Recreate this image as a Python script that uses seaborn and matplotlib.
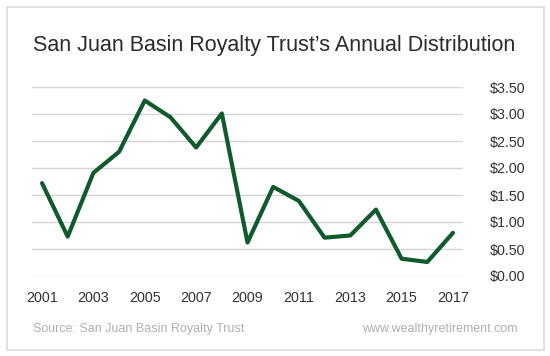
import pandas as pd
import numpy as np
from matplotlib import pyplot as plt
from matplotlib.patches import Rectangle
import seaborn as sns

# Data
years = list(range(2001, 2018))
distribution = [1.72, 0.73, 1.91, 2.30, 3.25, 2.94, 2.38, 3.01, 0.62,
                1.65, 1.39, 0.71, 0.75, 1.23, 0.32, 0.26, 0.80]
x_ticks = [2001, 2003, 2005, 2007, 2009, 2011, 2013, 2015, 2017]
y_ticks = [0, 0.5, 1.0, 1.5, 2.0, 2.5, 3.0, 3.5]

df = pd.DataFrame({"year": years, "value": distribution})

# Styles
sns.set_style("white")
plt.rcParams['font.family'] = ['Liberation Sans', 'DejaVu Sans']

fig = plt.figure(figsize=(5.5, 3.56), dpi=100)
ax = fig.add_axes([32 / 550, 80 / 356, 431 / 550, 189 / 356])

sns.lineplot(data=df, x='year', y='value', ax=ax, color='#115a2b',
             linewidth=3.0, clip_on=False)

ax.set_xlim(2000.61, 2017.39)
ax.set_ylim(0, 3.5)
ax.set_xticks(x_ticks)
ax.set_xticklabels([str(t) for t in x_ticks])
ax.set_yticks(y_ticks)
ax.set_yticklabels(['${:.2f}'.format(v) for v in y_ticks])
ax.yaxis.tick_right()
ax.tick_params(axis='y', length=0, pad=19, labelsize=10.3, labelcolor='#333333')
ax.tick_params(axis='x', length=0, pad=11, labelsize=10.3, labelcolor='#333333')
ax.set_xlabel('')
ax.set_ylabel('')
ax.grid(axis='y', color='#d4d4d4', linewidth=1)
ax.grid(axis='x', visible=False)
ax.set_axisbelow(True)
sns.despine(ax=ax, left=True, bottom=True, right=True, top=True)

# frame round the chart
fig.patches.append(Rectangle((7 / 550, 6 / 356), 537 / 550, 343 / 356,
                             transform=fig.transFigure, fill=False,
                             edgecolor='#dcdcdc', linewidth=1.2))

fig.text(274.5 / 550, 1 - 45 / 356,
         "San Juan Basin Royalty Trust\u2019s Annual Distribution",
         ha='center', va='center', fontsize=15.5, color='#2b2b2b')
fig.text(33 / 550, 1 - 329 / 356, "Source: San Juan Basin Royalty Trust",
         ha='left', va='center', fontsize=9, color='#b0b0b0')
fig.text(518 / 550, 1 - 329 / 356, "www.wealthyretirement.com",
         ha='right', va='center', fontsize=9, color='#b0b0b0')

fig.savefig('out.png', dpi=100)
